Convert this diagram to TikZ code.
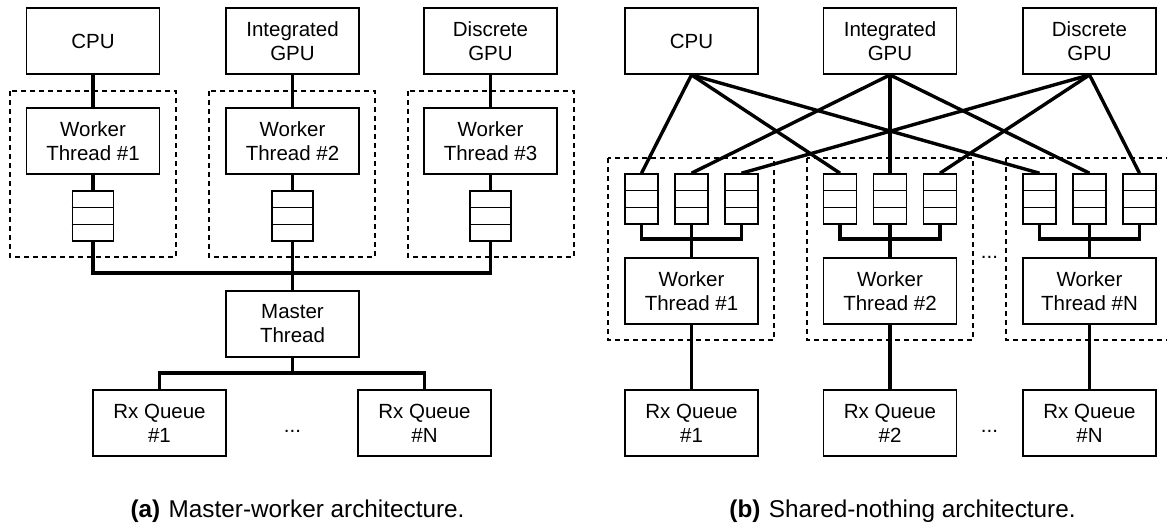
\documentclass[tikz,border=0pt]{standalone}
\usepackage{fontspec}
\setmainfont{Liberation Sans}
\usetikzlibrary{calc}
\tikzset{
  box/.style={draw, line width=1.8pt, minimum width=133pt, minimum height=66pt,
    align=center, inner sep=0pt, font=\fontsize{20.5}{24}\selectfont},
  queue/.style={draw, line width=1.6pt, minimum height=50pt, inner sep=0pt},
  wq/.style={queue, minimum width=41pt},
  sq/.style={queue, minimum width=33pt},
  group/.style={draw, line width=1.4pt, dash pattern=on 5pt off 4pt},
  link/.style={line width=3.4pt},
  dots/.style={font=\fontsize{20.5}{24}\selectfont, inner sep=0pt},
  caption/.style={font=\fontsize{24.3}{28}\selectfont, inner sep=0pt, anchor=base}
}
% two separators that split a queue into three slots
\newcommand{\qcells}[1]{%
  \draw[line width=1.6pt] ($(#1.north west)!1/3!(#1.south west)$) -- ($(#1.north east)!1/3!(#1.south east)$);
  \draw[line width=1.6pt] ($(#1.north west)!2/3!(#1.south west)$) -- ($(#1.north east)!2/3!(#1.south east)$);}
\begin{document}
\begin{tikzpicture}[x=1pt, y=-1pt]
\useasboundingbox (0,0) rectangle (1167,522);
\clip (0,0) rectangle (1167,522);

% ---------------- (a) master-worker ----------------
\draw[group] (10,91) rectangle (176,257);
\draw[group] (209,91) rectangle (375,257);
\draw[group] (408,91) rectangle (574,257);

\node[box] (acpu) at (93,41) {CPU};
\node[box] (aigpu) at (292.5,41) {Integrated\\GPU};
\node[box] (adgpu) at (490.5,41) {Discrete\\GPU};

\node[box] (aw1) at (93,141) {Worker\\Thread \#1};
\node[box] (aw2) at (292.5,141) {Worker\\Thread \#2};
\node[box] (aw3) at (490.5,141) {Worker\\Thread \#3};

\node[wq] (aq1) at (93,216) {};
\node[wq] (aq2) at (292.5,216) {};
\node[wq] (aq3) at (490.5,216) {};
\qcells{aq1}\qcells{aq2}\qcells{aq3}

\node[box] (amaster) at (292.5,324) {Master\\Thread};
\node[box] (arx1) at (159.5,423) {Rx Queue\\\#1};
\node[box] (arxn) at (424.5,423) {Rx Queue\\\#N};
\node[dots] (adots) at (292.5,431) {...};

\coordinate (abus) at (0,273);
\coordinate (arxbus) at (0,373);

\draw[link] (acpu) -- (aw1);
\draw[link] (aigpu) -- (aw2);
\draw[link] (adgpu) -- (aw3);
\draw[link] (aw1) -- (aq1);
\draw[link] (aw2) -- (aq2);
\draw[link] (aw3) -- (aq3);
\draw[link] (aq1.south) |- (abus -| amaster.north) -- (amaster.north);
\draw[link] (aq3.south) |- (abus -| amaster.north);
\draw[link] (aq2.south) -- (amaster.north);
\draw[link] (amaster.south) -- (arxbus -| amaster.south);
\draw[link] (arx1.north) |- (arxbus -| amaster.south) -| (arxn.north);

\node[caption] (acap) at (297.5,517) {\textbf{(a)}\hspace{0.35em}Master-worker architecture.};

% ---------------- (b) shared-nothing ----------------
\draw[group] (608,158) rectangle (774,340);
\draw[group] (807,158) rectangle (973,340);
\draw[group] (1006,158) rectangle (1172,340);

\node[box] (bcpu) at (691.5,41) {CPU};
\node[box] (bigpu) at (890,41) {Integrated\\GPU};
\node[box] (bdgpu) at (1089.5,41) {Discrete\\GPU};

\foreach \g/\cx in {1/691.5, 2/890, 3/1089.5} {
  \node[sq] (bq\g a) at (\cx-50,199) {};
  \node[sq] (bq\g b) at (\cx,199) {};
  \node[sq] (bq\g c) at (\cx+50,199) {};
  \qcells{bq\g a}\qcells{bq\g b}\qcells{bq\g c}
}

\node[box] (bw1) at (691.5,291) {Worker\\Thread \#1};
\node[box] (bw2) at (890,291) {Worker\\Thread \#2};
\node[box] (bw3) at (1089.5,291) {Worker\\Thread \#N};

\node[box] (brx1) at (691.5,423) {Rx Queue\\\#1};
\node[box] (brx2) at (890,423) {Rx Queue\\\#2};
\node[box] (brx3) at (1089.5,423) {Rx Queue\\\#N};

\node[dots] (bdots1) at (989.5,257) {...};
\node[dots] (bdots2) at (989.5,431) {...};

% every processor feeds one queue slot in every worker
\foreach \g in {1,2,3} {
  \draw[link] (bcpu.south) -- (bq\g a.north);
  \draw[link] (bigpu.south) -- (bq\g b.north);
  \draw[link] (bdgpu.south) -- (bq\g c.north);
}

\coordinate (bbus) at (0,239);
\foreach \g in {1,2,3} {
  \draw[link] (bq\g a.south) |- (bbus -| bq\g b.south) -| (bq\g c.south);
  \draw[link] (bq\g b.south) -- (bw\g.north);
  \draw[link] (bw\g) -- (brx\g);
}

\node[caption] (bcap) at (902.5,517) {\textbf{(b)}\hspace{0.35em}Shared-nothing architecture.};
\end{tikzpicture}
\end{document}
